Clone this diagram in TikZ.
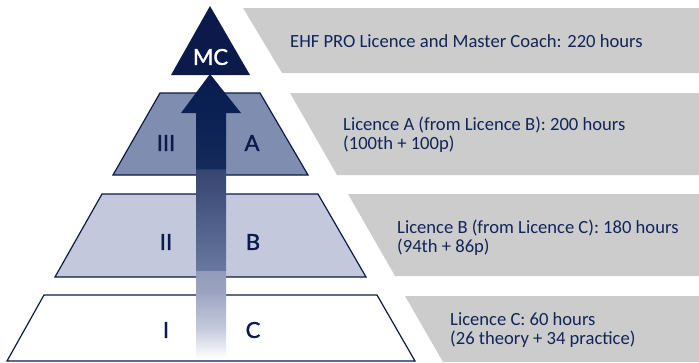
\documentclass[tikz,border=0pt]{standalone}
\usepackage{fontspec}
\setmainfont{Carlito}
\newfontfamily\bigfont[FakeBold=1.6]{Lato}
\definecolor{navy}{HTML}{0B1A4A}
\definecolor{txtnavy}{HTML}{12255A}
\definecolor{tierA}{HTML}{7F8DB0}
\definecolor{tierB}{HTML}{C3C8DC}
\definecolor{bandgray}{HTML}{CBCCCB}
\definecolor{s1}{RGB}{225,228,238}
\definecolor{s2}{RGB}{196,202,220}
\definecolor{s3}{RGB}{160,168,196}
\definecolor{s4}{RGB}{155,163,192}
\definecolor{s5}{RGB}{146,156,186}
\definecolor{s6}{RGB}{105,120,160}
\definecolor{s7}{RGB}{85,100,142}
\definecolor{s8}{RGB}{62,78,120}
\definecolor{s9}{RGB}{55,70,112}
\definecolor{s10}{RGB}{20,42,90}
\definecolor{s11}{RGB}{12,34,84}
\definecolor{s12}{RGB}{10,30,80}
\pgfdeclareverticalshading{arrowshade}{100bp}{color(0bp)=(white); color(25bp)=(white);
 color(27.6bp)=(s1); color(30.2bp)=(s2); color(36bp)=(s3); color(36.4bp)=(s4);
 color(40.3bp)=(s5); color(40.5bp)=(s6); color(47bp)=(s7); color(54.8bp)=(s8);
 color(58.2bp)=(s9); color(58.4bp)=(s10); color(66.2bp)=(s11); color(72.7bp)=(s12);
 color(75bp)=(navy); color(100bp)=(navy)}
\tikzset{
  band/.style={fill=bandgray, draw=none},
  tier/.style={draw=navy, line width=1.2pt, line join=miter},
  big/.style={font=\bigfont\fontsize{22}{22}\selectfont, text=navy, inner sep=0pt},
  desc/.style={font=\fontsize{18.6}{19.5}\selectfont, text=txtnavy, inner sep=0pt, anchor=base west},
}
\begin{document}
\begin{tikzpicture}[x=1pt,y=-1pt]
\useasboundingbox (0,0) rectangle (699,362);
% gray bands
\fill[band] (243,8) -- (699,8) -- (699,73) -- (282,73) -- cycle;
\fill[band] (290,93) -- (699,93) -- (699,175) -- (337,175) -- cycle;
\fill[band] (348,194) -- (699,194) -- (699,276) -- (395,276) -- cycle;
\fill[band] (405,296) -- (699,296) -- (699,362) -- (443,362) -- cycle;
% tiers
\draw[tier, fill=white] (44,295) -- (377,295) -- (415,361) -- (7,361) -- cycle;
\draw[tier, fill=tierB] (102,194) -- (318,194) -- (366,277) -- (55,277) -- cycle;
\draw[tier, fill=tierA] (160,93) -- (260,93) -- (308,175) -- (113,175) -- cycle;
% arrow
\shade[shading=arrowshade] (210,74) -- (241,113) -- (226,113) -- (226,358) -- (196,358) -- (196,113) -- (181,113) -- cycle;
% MC triangle
\fill[navy] (210,6) -- (250,75) -- (171,75) -- cycle;
% big labels
\node[big, text=white] (mc) at (210.5,57) {MC};
\node[big] (l3) at (166,143) {III};
\node[big] (la) at (252,143) {A};
\node[big] (l2) at (166,242) {II};
\node[big] (lb) at (253,242) {B};
\node[big] (l1) at (166,330) {I};
\node[big] (lc) at (253,330) {C};
% descriptions
\node[desc] (dmc) at (290,47) {EHF PRO Licence and Master Coach: 220 hours};
\node[desc] (da) at (343,130) {\parbox[t]{340pt}{Licence A (from Licence B): 200 hours\\(100th + 100p)}};
\node[desc] (db) at (397,233) {\parbox[t]{300pt}{Licence B (from Licence C): 180 hours\\(94th + 86p)}};
\node[desc] (dc) at (450,325) {\parbox[t]{240pt}{Licence C: 60 hours\\(26 theory + 34 practice)}};
\end{tikzpicture}
\end{document}
